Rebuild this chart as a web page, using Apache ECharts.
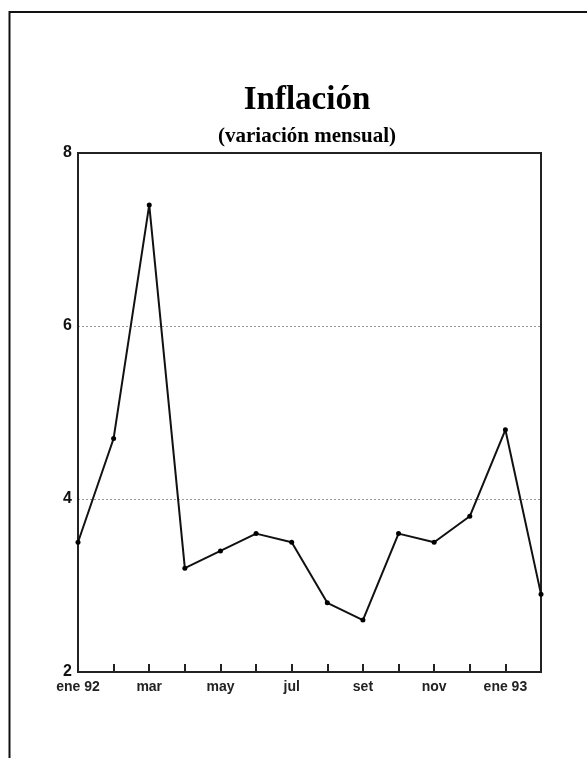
<!DOCTYPE html>
<html>
<head>
<meta charset="utf-8">
<script src="https://cdn.jsdelivr.net/npm/echarts@6/dist/echarts.min.js"></script>
<style>
  html, body { margin: 0; padding: 0; background: #fff; }
  #mychart { width: 587px; height: 758px; }
</style>
</head>
<body>
<div id="mychart"></div>
<script>
// meses, ene 92 a feb 93
var meses = ['ene 92', 'feb', 'mar', 'abr', 'may', 'jun', 'jul', 'ago', 'set', 'oct', 'nov', 'dic', 'ene 93', 'feb'];
// variacion mensual (%)
var inflacion = [3.5, 4.7, 7.4, 3.2, 3.4, 3.6, 3.5, 2.8, 2.6, 3.6, 3.5, 3.8, 4.8, 2.9];
var yMin = 2, yMax = 8, yStep = 2;

var dom = document.getElementById('mychart');
var myChart = echarts.init(dom);

var option = {
    backgroundColor: '#fff',
    title: [
        {
            text: 'Inflación',
            left: 302,
            top: 79,
            textAlign: 'center',
            textStyle: {
                fontFamily: 'Liberation Serif',
                fontWeight: 'bold',
                fontSize: 33,
                color: '#000'
            }
        },
        {
            text: '(variación mensual)',
            left: 302,
            top: 121,
            textAlign: 'center',
            textStyle: {
                fontFamily: 'Liberation Serif',
                fontWeight: 'bold',
                fontSize: 21,
                color: '#000'
            }
        }
    ],
    graphic: [
        {
            // marco exterior
            type: 'rect',
            shape: { x: 9.5, y: 12, width: 700, height: 800 },
            style: { fill: 'none', stroke: '#111', lineWidth: 2 }
        }
    ],
    grid: {
        left: 78,
        right: 46,
        top: 153,
        bottom: 86,
        show: true,
        borderColor: '#222',
        borderWidth: 2
    },
    xAxis: {
        type: 'category',
        data: meses,
        boundaryGap: false,
        axisLine: { lineStyle: { color: '#222', width: 2 } },
        axisTick: { inside: true, length: 8, interval: 0, lineStyle: { color: '#222', width: 2 } },
        axisLabel: {
            interval: 1,
            margin: 8,
            color: '#222',
            fontFamily: 'Liberation Sans',
            fontWeight: 'bold',
            fontSize: 14
        },
        splitLine: { show: false }
    },
    yAxis: {
        type: 'value',
        min: yMin,
        max: yMax,
        interval: yStep,
        axisLine: { show: true, lineStyle: { color: '#222', width: 2 } },
        axisTick: { show: false },
        axisLabel: {
            margin: 6,
            color: '#111',
            fontFamily: 'Liberation Sans',
            fontWeight: 'bold',
            fontSize: 16
        },
        splitLine: {
            show: true,
            showMinLine: false,
            showMaxLine: false,
            lineStyle: { color: '#999', type: [2, 2], width: 1 }
        }
    },
    series: [
        {
            name: 'Inflación',
            type: 'line',
            data: inflacion,
            symbol: 'circle',
            symbolSize: 5,
            itemStyle: { color: '#000' },
            lineStyle: { color: '#111', width: 2 },
            animation: false
        }
    ]
};

if (option && typeof option === 'object') {
    myChart.setOption(option);
}
</script>
</body>
</html>
